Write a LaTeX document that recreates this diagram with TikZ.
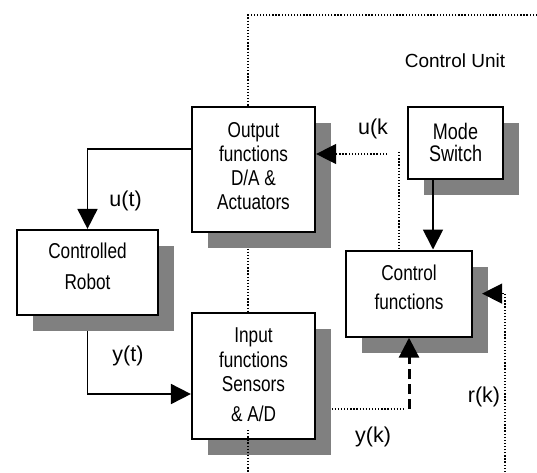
\documentclass[tikz,border=0pt]{standalone}
\usepackage{fontspec}
\setmainfont{Liberation Sans}
\newfontfamily\narrowsans{Liberation Sans}[FakeStretch=0.8]
\usetikzlibrary{arrows.meta,shadows,calc}
\pgfdeclarelayer{background}
\pgfsetlayers{background,main}
\begin{document}
\begin{tikzpicture}[x=1pt,y=-1pt,
  box/.style={draw, line width=2.2pt, fill=white, inner sep=0pt, align=center,
    drop shadow={shadow xshift=16pt, shadow yshift=-16pt, fill=gray, opacity=1}},
  conn/.style={line width=1.8pt},
  tip/.style={-{Triangle[length=20pt,width=20pt]}},
  dotconn/.style={line width=1.3pt, dash pattern=on 1.3pt off 1.8pt},
  dashconn/.style={line width=3pt, dash pattern=on 10pt off 5pt},
  lbl/.style={font=\fontsize{21.5pt}{25pt}\selectfont, anchor=base, inner sep=0pt}]
\useasboundingbox (0,0) rectangle (537,472);

% boxes
\node[box, minimum width=123pt, minimum height=125pt, text depth=7.8pt,
  font=\narrowsans\fontsize{21.5pt}{24pt}\selectfont] (out) at (253.5,169.5)
  {Output\\functions\\D/A \&\\Actuators};
\node[box, minimum width=141pt, minimum height=85pt, text depth=11.7pt,
  font=\narrowsans\fontsize{21.5pt}{31pt}\selectfont] (robot) at (87.5,272.5)
  {Controlled\\Robot};
\node[box, minimum width=123pt, minimum height=126pt, text depth=3pt,
  font=\narrowsans\fontsize{21.5pt}{24.2pt}\selectfont] (inp) at (253.5,376)
  {Input\\functions\\Sensors\\[5.6pt]\& A/D};
\node[box, minimum width=95pt, minimum height=72pt, text depth=1.4pt,
  font=\narrowsans\fontsize{22.5pt}{22.4pt}\selectfont] (mode) at (455.5,143)
  {Mode\\Switch};
\node[box, minimum width=126pt, minimum height=86pt, text depth=12.3pt,
  font=\narrowsans\fontsize{21.5pt}{29.4pt}\selectfont] (ctrl) at (409,293.6)
  {Control\\functions};

% labels
\node[anchor=base, inner sep=0pt, font=\fontsize{19pt}{23pt}\selectfont] (cu) at (455,67.7) {Control Unit};
\node[lbl] (ukl) at (373,134) {u(k};
\node[lbl] (utl) at (125.6,206) {u(t)};
\node[lbl] (ytl) at (128,361) {y(t)};
\node[lbl] (ykl) at (373,442.7) {y(k)};
\node[lbl] (rkl) at (484,402) {r(k)};

% free ends
\coordinate (top) at (248,15);
\coordinate (topr) at (537,15);
\coordinate (bot1) at (248,430);
\coordinate (bot2) at (248,472);
\coordinate (uk) at (387,154);
\coordinate (dv) at (399,152);
\coordinate (yk) at (403,409);
\coordinate (rk) at (505,472);

% connectors partly hidden behind shadows
\begin{pgfonlayer}{background}
  \draw[conn, tip] (robot.south) |- (inp.west |- 0,394);
  \draw[dotconn] (inp.east |- yk) -- (yk);
  \draw[dotconn] (out.south -| top) -- (inp.north -| top);
\end{pgfonlayer}

% connectors
\draw[conn, tip] (out.west |- 0,149) -| (robot.north);
\draw[dotconn, tip] (uk) -- (out.east |- uk);
\draw[dotconn] (dv) -- (dv |- ctrl.north);
\draw[conn, tip] (mode.south -| 433,0) -- (ctrl.north -| 433,0);
\draw[dashconn, tip] (ctrl.south |- yk) -- (ctrl.south);
\draw[dotconn, tip] (rk) |- ([xshift=9pt]ctrl.east);
\draw[dotconn] (topr) -- (top) -- (out.north -| top);
\draw[dotconn] (bot1) -- (bot2);
\end{tikzpicture}
\end{document}
